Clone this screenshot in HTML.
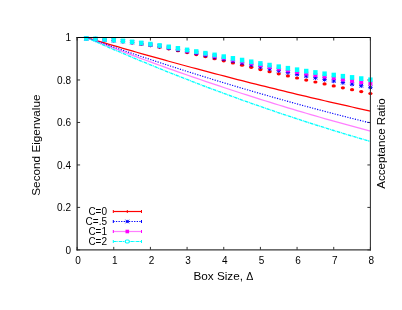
<!DOCTYPE html>
<html><head><meta charset="utf-8"><style>
html,body{margin:0;padding:0;background:#fff;}
svg{display:block;will-change:transform}
text{font-family:"Liberation Sans",sans-serif;fill:#000}
</style></head><body>
<svg width="402" height="310" viewBox="0 0 402 310">
<rect width="402" height="310" fill="#fff"/>
<g stroke="#333" stroke-width="1" fill="none">
<path d="M77.10,249.9 v-3 M77.10,37.5 v3"/>
<path d="M113.76,249.9 v-3 M113.76,37.5 v3"/>
<path d="M150.42,249.9 v-3 M150.42,37.5 v3"/>
<path d="M187.09,249.9 v-3 M187.09,37.5 v3"/>
<path d="M223.75,249.9 v-3 M223.75,37.5 v3"/>
<path d="M260.41,249.9 v-3 M260.41,37.5 v3"/>
<path d="M297.07,249.9 v-3 M297.07,37.5 v3"/>
<path d="M333.74,249.9 v-3 M333.74,37.5 v3"/>
<path d="M370.40,249.9 v-3 M370.40,37.5 v3"/>
<path d="M77.1,249.90 h3 M370.4,249.90 h-3"/>
<path d="M77.1,207.42 h3 M370.4,207.42 h-3"/>
<path d="M77.1,164.94 h3 M370.4,164.94 h-3"/>
<path d="M77.1,122.46 h3 M370.4,122.46 h-3"/>
<path d="M77.1,79.98 h3 M370.4,79.98 h-3"/>
<path d="M77.1,37.50 h3 M370.4,37.50 h-3"/>
</g>
<path d="M86.27,37.50 L90.85,38.87 L95.43,40.23 L100.01,41.59 L104.60,42.94 L109.18,44.29 L113.76,45.63 L118.35,46.96 L122.93,48.29 L127.51,49.61 L132.09,50.92 L136.68,52.23 L141.26,53.54 L145.84,54.83 L150.42,56.12 L155.01,57.41 L159.59,58.69 L164.17,59.96 L168.76,61.23 L173.34,62.49 L177.92,63.75 L182.50,65.00 L187.09,66.24 L191.67,67.48 L196.25,68.71 L200.84,69.93 L205.42,71.15 L210.00,72.37 L214.58,73.57 L219.17,74.77 L223.75,75.97 L228.33,77.16 L232.92,78.34 L237.50,79.52 L242.08,80.69 L246.66,81.86 L251.25,83.02 L255.83,84.17 L260.41,85.32 L265.00,86.46 L269.58,87.59 L274.16,88.72 L278.74,89.85 L283.33,90.96 L287.91,92.07 L292.49,93.18 L297.07,94.28 L301.66,95.37 L306.24,96.46 L310.82,97.54 L315.41,98.62 L319.99,99.69 L324.57,100.75 L329.15,101.81 L333.74,102.86 L338.32,103.90 L342.90,104.94 L347.49,105.98 L352.07,107.01 L356.65,108.03 L361.23,109.04 L365.82,110.05 L370.40,111.06" fill="none" stroke="#ff0000" stroke-width="1.25"/>
<path d="M86.27,37.50 L90.85,39.13 L95.43,40.75 L100.01,42.36 L104.60,43.96 L109.18,45.55 L113.76,47.14 L118.35,48.72 L122.93,50.29 L127.51,51.85 L132.09,53.40 L136.68,54.95 L141.26,56.48 L145.84,58.01 L150.42,59.53 L155.01,61.05 L159.59,62.55 L164.17,64.05 L168.76,65.54 L173.34,67.02 L177.92,68.49 L182.50,69.95 L187.09,71.41 L191.67,72.86 L196.25,74.30 L200.84,75.73 L205.42,77.15 L210.00,78.57 L214.58,79.98 L219.17,81.38 L223.75,82.77 L228.33,84.15 L232.92,85.52 L237.50,86.89 L242.08,88.25 L246.66,89.60 L251.25,90.94 L255.83,92.28 L260.41,93.60 L265.00,94.92 L269.58,96.23 L274.16,97.53 L278.74,98.82 L283.33,100.11 L287.91,101.39 L292.49,102.66 L297.07,103.92 L301.66,105.17 L306.24,106.42 L310.82,107.65 L315.41,108.88 L319.99,110.10 L324.57,111.31 L329.15,112.52 L333.74,113.71 L338.32,114.90 L342.90,116.08 L347.49,117.25 L352.07,118.42 L356.65,119.57 L361.23,120.72 L365.82,121.86 L370.40,122.99" fill="none" stroke="#0000ff" stroke-width="1.15" stroke-dasharray="1.2,1.4"/>
<path d="M86.27,37.50 L90.85,39.31 L95.43,41.11 L100.01,42.89 L104.60,44.67 L109.18,46.44 L113.76,48.20 L118.35,49.95 L122.93,51.69 L127.51,53.42 L132.09,55.14 L136.68,56.85 L141.26,58.55 L145.84,60.24 L150.42,61.92 L155.01,63.59 L159.59,65.25 L164.17,66.90 L168.76,68.54 L173.34,70.18 L177.92,71.80 L182.50,73.41 L187.09,75.01 L191.67,76.61 L196.25,78.19 L200.84,79.76 L205.42,81.32 L210.00,82.88 L214.58,84.42 L219.17,85.96 L223.75,87.48 L228.33,88.99 L232.92,90.50 L237.50,91.99 L242.08,93.48 L246.66,94.95 L251.25,96.42 L255.83,97.87 L260.41,99.32 L265.00,100.76 L269.58,102.18 L274.16,103.60 L278.74,105.01 L283.33,106.40 L287.91,107.79 L292.49,109.17 L297.07,110.54 L301.66,111.89 L306.24,113.24 L310.82,114.58 L315.41,115.91 L319.99,117.23 L324.57,118.54 L329.15,119.83 L333.74,121.12 L338.32,122.40 L342.90,123.67 L347.49,124.93 L352.07,126.18 L356.65,127.42 L361.23,128.65 L365.82,129.88 L370.40,131.09" fill="none" stroke="#ff00ff" stroke-opacity="0.5" stroke-width="1.25"/>
<path d="M86.27,37.50 L90.85,39.53 L95.43,41.55 L100.01,43.56 L104.60,45.55 L109.18,47.54 L113.76,49.51 L118.35,51.47 L122.93,53.42 L127.51,55.36 L132.09,57.29 L136.68,59.20 L141.26,61.10 L145.84,62.99 L150.42,64.87 L155.01,66.74 L159.59,68.60 L164.17,70.44 L168.76,72.28 L173.34,74.10 L177.92,75.91 L182.50,77.70 L187.09,79.49 L191.67,81.27 L196.25,83.03 L200.84,84.78 L205.42,86.52 L210.00,88.25 L214.58,89.96 L219.17,91.67 L223.75,93.36 L228.33,95.04 L232.92,96.71 L237.50,98.37 L242.08,100.02 L246.66,101.65 L251.25,103.28 L255.83,104.89 L260.41,106.49 L265.00,108.08 L269.58,109.65 L274.16,111.22 L278.74,112.77 L283.33,114.31 L287.91,115.84 L292.49,117.36 L297.07,118.87 L301.66,120.37 L306.24,121.85 L310.82,123.32 L315.41,124.78 L319.99,126.23 L324.57,127.67 L329.15,129.09 L333.74,130.51 L338.32,131.91 L342.90,133.30 L347.49,134.68 L352.07,136.04 L356.65,137.40 L361.23,138.74 L365.82,140.08 L370.40,141.40" fill="none" stroke="#00ffff" stroke-width="1.35" stroke-dasharray="3.4,0.7,0.9,0.7"/>
<ellipse cx="86.27" cy="38.59" rx="2.1" ry="1.6" fill="#ff0000"/>
<ellipse cx="95.43" cy="39.13" rx="2.1" ry="1.6" fill="#ff0000"/>
<ellipse cx="104.60" cy="39.82" rx="2.1" ry="1.6" fill="#ff0000"/>
<ellipse cx="113.76" cy="40.67" rx="2.1" ry="1.6" fill="#ff0000"/>
<ellipse cx="122.93" cy="41.67" rx="2.1" ry="1.6" fill="#ff0000"/>
<ellipse cx="132.09" cy="42.83" rx="2.1" ry="1.6" fill="#ff0000"/>
<ellipse cx="141.26" cy="44.14" rx="2.1" ry="1.6" fill="#ff0000"/>
<ellipse cx="150.42" cy="45.58" rx="2.1" ry="1.6" fill="#ff0000"/>
<ellipse cx="159.59" cy="47.16" rx="2.1" ry="1.6" fill="#ff0000"/>
<ellipse cx="168.76" cy="48.86" rx="2.1" ry="1.6" fill="#ff0000"/>
<ellipse cx="177.92" cy="50.66" rx="2.1" ry="1.6" fill="#ff0000"/>
<ellipse cx="187.09" cy="52.56" rx="2.1" ry="1.6" fill="#ff0000"/>
<ellipse cx="196.25" cy="54.54" rx="2.1" ry="1.6" fill="#ff0000"/>
<ellipse cx="205.42" cy="56.59" rx="2.1" ry="1.6" fill="#ff0000"/>
<ellipse cx="214.58" cy="58.69" rx="2.1" ry="1.6" fill="#ff0000"/>
<ellipse cx="223.75" cy="60.83" rx="2.1" ry="1.6" fill="#ff0000"/>
<ellipse cx="232.92" cy="63.00" rx="2.1" ry="1.6" fill="#ff0000"/>
<ellipse cx="242.08" cy="65.18" rx="2.1" ry="1.6" fill="#ff0000"/>
<ellipse cx="251.25" cy="67.37" rx="2.1" ry="1.6" fill="#ff0000"/>
<ellipse cx="260.41" cy="69.55" rx="2.1" ry="1.6" fill="#ff0000"/>
<ellipse cx="269.58" cy="71.71" rx="2.1" ry="1.6" fill="#ff0000"/>
<ellipse cx="278.74" cy="73.84" rx="2.1" ry="1.6" fill="#ff0000"/>
<ellipse cx="287.91" cy="75.94" rx="2.1" ry="1.6" fill="#ff0000"/>
<ellipse cx="297.07" cy="78.01" rx="2.1" ry="1.6" fill="#ff0000"/>
<ellipse cx="306.24" cy="80.03" rx="2.1" ry="1.6" fill="#ff0000"/>
<ellipse cx="315.41" cy="82.02" rx="2.1" ry="1.6" fill="#ff0000"/>
<ellipse cx="324.57" cy="83.97" rx="2.1" ry="1.6" fill="#ff0000"/>
<ellipse cx="333.74" cy="85.89" rx="2.1" ry="1.6" fill="#ff0000"/>
<ellipse cx="342.90" cy="87.79" rx="2.1" ry="1.6" fill="#ff0000"/>
<ellipse cx="352.07" cy="89.68" rx="2.1" ry="1.6" fill="#ff0000"/>
<ellipse cx="361.23" cy="91.58" rx="2.1" ry="1.6" fill="#ff0000"/>
<ellipse cx="370.40" cy="93.50" rx="2.1" ry="1.6" fill="#ff0000"/>
<path d="M84.47,36.75 l3.6,3.6 m-3.6,0 l3.6,-3.6 m-1.8,-0.4 v4.4 m-2.2,-2.2 h4.4" stroke="#0000ff" stroke-width="1" fill="none"/>
<path d="M93.63,37.22 l3.6,3.6 m-3.6,0 l3.6,-3.6 m-1.8,-0.4 v4.4 m-2.2,-2.2 h4.4" stroke="#0000ff" stroke-width="1" fill="none"/>
<path d="M102.80,37.85 l3.6,3.6 m-3.6,0 l3.6,-3.6 m-1.8,-0.4 v4.4 m-2.2,-2.2 h4.4" stroke="#0000ff" stroke-width="1" fill="none"/>
<path d="M111.96,38.62 l3.6,3.6 m-3.6,0 l3.6,-3.6 m-1.8,-0.4 v4.4 m-2.2,-2.2 h4.4" stroke="#0000ff" stroke-width="1" fill="none"/>
<path d="M121.13,39.54 l3.6,3.6 m-3.6,0 l3.6,-3.6 m-1.8,-0.4 v4.4 m-2.2,-2.2 h4.4" stroke="#0000ff" stroke-width="1" fill="none"/>
<path d="M130.29,40.61 l3.6,3.6 m-3.6,0 l3.6,-3.6 m-1.8,-0.4 v4.4 m-2.2,-2.2 h4.4" stroke="#0000ff" stroke-width="1" fill="none"/>
<path d="M139.46,41.81 l3.6,3.6 m-3.6,0 l3.6,-3.6 m-1.8,-0.4 v4.4 m-2.2,-2.2 h4.4" stroke="#0000ff" stroke-width="1" fill="none"/>
<path d="M148.62,43.14 l3.6,3.6 m-3.6,0 l3.6,-3.6 m-1.8,-0.4 v4.4 m-2.2,-2.2 h4.4" stroke="#0000ff" stroke-width="1" fill="none"/>
<path d="M157.79,44.60 l3.6,3.6 m-3.6,0 l3.6,-3.6 m-1.8,-0.4 v4.4 m-2.2,-2.2 h4.4" stroke="#0000ff" stroke-width="1" fill="none"/>
<path d="M166.96,46.16 l3.6,3.6 m-3.6,0 l3.6,-3.6 m-1.8,-0.4 v4.4 m-2.2,-2.2 h4.4" stroke="#0000ff" stroke-width="1" fill="none"/>
<path d="M176.12,47.82 l3.6,3.6 m-3.6,0 l3.6,-3.6 m-1.8,-0.4 v4.4 m-2.2,-2.2 h4.4" stroke="#0000ff" stroke-width="1" fill="none"/>
<path d="M185.29,49.57 l3.6,3.6 m-3.6,0 l3.6,-3.6 m-1.8,-0.4 v4.4 m-2.2,-2.2 h4.4" stroke="#0000ff" stroke-width="1" fill="none"/>
<path d="M194.45,51.39 l3.6,3.6 m-3.6,0 l3.6,-3.6 m-1.8,-0.4 v4.4 m-2.2,-2.2 h4.4" stroke="#0000ff" stroke-width="1" fill="none"/>
<path d="M203.62,53.27 l3.6,3.6 m-3.6,0 l3.6,-3.6 m-1.8,-0.4 v4.4 m-2.2,-2.2 h4.4" stroke="#0000ff" stroke-width="1" fill="none"/>
<path d="M212.78,55.19 l3.6,3.6 m-3.6,0 l3.6,-3.6 m-1.8,-0.4 v4.4 m-2.2,-2.2 h4.4" stroke="#0000ff" stroke-width="1" fill="none"/>
<path d="M221.95,57.14 l3.6,3.6 m-3.6,0 l3.6,-3.6 m-1.8,-0.4 v4.4 m-2.2,-2.2 h4.4" stroke="#0000ff" stroke-width="1" fill="none"/>
<path d="M231.12,59.12 l3.6,3.6 m-3.6,0 l3.6,-3.6 m-1.8,-0.4 v4.4 m-2.2,-2.2 h4.4" stroke="#0000ff" stroke-width="1" fill="none"/>
<path d="M240.28,61.09 l3.6,3.6 m-3.6,0 l3.6,-3.6 m-1.8,-0.4 v4.4 m-2.2,-2.2 h4.4" stroke="#0000ff" stroke-width="1" fill="none"/>
<path d="M249.45,63.06 l3.6,3.6 m-3.6,0 l3.6,-3.6 m-1.8,-0.4 v4.4 m-2.2,-2.2 h4.4" stroke="#0000ff" stroke-width="1" fill="none"/>
<path d="M258.61,65.02 l3.6,3.6 m-3.6,0 l3.6,-3.6 m-1.8,-0.4 v4.4 m-2.2,-2.2 h4.4" stroke="#0000ff" stroke-width="1" fill="none"/>
<path d="M267.78,66.94 l3.6,3.6 m-3.6,0 l3.6,-3.6 m-1.8,-0.4 v4.4 m-2.2,-2.2 h4.4" stroke="#0000ff" stroke-width="1" fill="none"/>
<path d="M276.94,68.83 l3.6,3.6 m-3.6,0 l3.6,-3.6 m-1.8,-0.4 v4.4 m-2.2,-2.2 h4.4" stroke="#0000ff" stroke-width="1" fill="none"/>
<path d="M286.11,70.68 l3.6,3.6 m-3.6,0 l3.6,-3.6 m-1.8,-0.4 v4.4 m-2.2,-2.2 h4.4" stroke="#0000ff" stroke-width="1" fill="none"/>
<path d="M295.27,72.48 l3.6,3.6 m-3.6,0 l3.6,-3.6 m-1.8,-0.4 v4.4 m-2.2,-2.2 h4.4" stroke="#0000ff" stroke-width="1" fill="none"/>
<path d="M304.44,74.23 l3.6,3.6 m-3.6,0 l3.6,-3.6 m-1.8,-0.4 v4.4 m-2.2,-2.2 h4.4" stroke="#0000ff" stroke-width="1" fill="none"/>
<path d="M313.61,75.93 l3.6,3.6 m-3.6,0 l3.6,-3.6 m-1.8,-0.4 v4.4 m-2.2,-2.2 h4.4" stroke="#0000ff" stroke-width="1" fill="none"/>
<path d="M322.77,77.59 l3.6,3.6 m-3.6,0 l3.6,-3.6 m-1.8,-0.4 v4.4 m-2.2,-2.2 h4.4" stroke="#0000ff" stroke-width="1" fill="none"/>
<path d="M331.94,79.21 l3.6,3.6 m-3.6,0 l3.6,-3.6 m-1.8,-0.4 v4.4 m-2.2,-2.2 h4.4" stroke="#0000ff" stroke-width="1" fill="none"/>
<path d="M341.10,80.80 l3.6,3.6 m-3.6,0 l3.6,-3.6 m-1.8,-0.4 v4.4 m-2.2,-2.2 h4.4" stroke="#0000ff" stroke-width="1" fill="none"/>
<path d="M350.27,82.37 l3.6,3.6 m-3.6,0 l3.6,-3.6 m-1.8,-0.4 v4.4 m-2.2,-2.2 h4.4" stroke="#0000ff" stroke-width="1" fill="none"/>
<path d="M359.43,83.94 l3.6,3.6 m-3.6,0 l3.6,-3.6 m-1.8,-0.4 v4.4 m-2.2,-2.2 h4.4" stroke="#0000ff" stroke-width="1" fill="none"/>
<path d="M368.60,85.53 l3.6,3.6 m-3.6,0 l3.6,-3.6 m-1.8,-0.4 v4.4 m-2.2,-2.2 h4.4" stroke="#0000ff" stroke-width="1" fill="none"/>
<rect x="84.27" y="36.52" width="4" height="4" fill="#ff00ff"/>
<rect x="93.43" y="36.96" width="4" height="4" fill="#ff00ff"/>
<rect x="102.60" y="37.54" width="4" height="4" fill="#ff00ff"/>
<rect x="111.76" y="38.27" width="4" height="4" fill="#ff00ff"/>
<rect x="120.93" y="39.13" width="4" height="4" fill="#ff00ff"/>
<rect x="130.09" y="40.14" width="4" height="4" fill="#ff00ff"/>
<rect x="139.26" y="41.28" width="4" height="4" fill="#ff00ff"/>
<rect x="148.42" y="42.54" width="4" height="4" fill="#ff00ff"/>
<rect x="157.59" y="43.92" width="4" height="4" fill="#ff00ff"/>
<rect x="166.76" y="45.40" width="4" height="4" fill="#ff00ff"/>
<rect x="175.92" y="46.98" width="4" height="4" fill="#ff00ff"/>
<rect x="185.09" y="48.63" width="4" height="4" fill="#ff00ff"/>
<rect x="194.25" y="50.35" width="4" height="4" fill="#ff00ff"/>
<rect x="203.42" y="52.12" width="4" height="4" fill="#ff00ff"/>
<rect x="212.58" y="53.93" width="4" height="4" fill="#ff00ff"/>
<rect x="221.75" y="55.77" width="4" height="4" fill="#ff00ff"/>
<rect x="230.92" y="57.62" width="4" height="4" fill="#ff00ff"/>
<rect x="240.08" y="59.47" width="4" height="4" fill="#ff00ff"/>
<rect x="249.25" y="61.30" width="4" height="4" fill="#ff00ff"/>
<rect x="258.41" y="63.11" width="4" height="4" fill="#ff00ff"/>
<rect x="267.58" y="64.89" width="4" height="4" fill="#ff00ff"/>
<rect x="276.74" y="66.63" width="4" height="4" fill="#ff00ff"/>
<rect x="285.91" y="68.32" width="4" height="4" fill="#ff00ff"/>
<rect x="295.07" y="69.95" width="4" height="4" fill="#ff00ff"/>
<rect x="304.24" y="71.54" width="4" height="4" fill="#ff00ff"/>
<rect x="313.41" y="73.06" width="4" height="4" fill="#ff00ff"/>
<rect x="322.57" y="74.54" width="4" height="4" fill="#ff00ff"/>
<rect x="331.74" y="75.97" width="4" height="4" fill="#ff00ff"/>
<rect x="340.90" y="77.37" width="4" height="4" fill="#ff00ff"/>
<rect x="350.07" y="78.74" width="4" height="4" fill="#ff00ff"/>
<rect x="359.23" y="80.10" width="4" height="4" fill="#ff00ff"/>
<rect x="368.40" y="81.48" width="4" height="4" fill="#ff00ff"/>
<rect x="84.07" y="36.14" width="4.4" height="4.7" fill="#00ffff"/>
<rect x="93.23" y="36.54" width="4.4" height="4.7" fill="#00ffff"/>
<rect x="102.40" y="37.09" width="4.4" height="4.7" fill="#00ffff"/>
<rect x="111.56" y="37.77" width="4.4" height="4.7" fill="#00ffff"/>
<rect x="120.73" y="38.59" width="4.4" height="4.7" fill="#00ffff"/>
<rect x="129.89" y="39.54" width="4.4" height="4.7" fill="#00ffff"/>
<rect x="139.06" y="40.61" width="4.4" height="4.7" fill="#00ffff"/>
<rect x="148.22" y="41.81" width="4.4" height="4.7" fill="#00ffff"/>
<rect x="157.39" y="43.11" width="4.4" height="4.7" fill="#00ffff"/>
<rect x="166.56" y="44.51" width="4.4" height="4.7" fill="#00ffff"/>
<rect x="175.72" y="46.00" width="4.4" height="4.7" fill="#00ffff"/>
<rect x="184.89" y="47.57" width="4.4" height="4.7" fill="#00ffff"/>
<rect x="194.05" y="49.19" width="4.4" height="4.7" fill="#00ffff"/>
<rect x="203.22" y="50.86" width="4.4" height="4.7" fill="#00ffff"/>
<rect x="212.38" y="52.56" width="4.4" height="4.7" fill="#00ffff"/>
<rect x="221.55" y="54.29" width="4.4" height="4.7" fill="#00ffff"/>
<rect x="230.72" y="56.02" width="4.4" height="4.7" fill="#00ffff"/>
<rect x="239.88" y="57.74" width="4.4" height="4.7" fill="#00ffff"/>
<rect x="249.05" y="59.45" width="4.4" height="4.7" fill="#00ffff"/>
<rect x="258.21" y="61.12" width="4.4" height="4.7" fill="#00ffff"/>
<rect x="267.38" y="62.76" width="4.4" height="4.7" fill="#00ffff"/>
<rect x="276.54" y="64.35" width="4.4" height="4.7" fill="#00ffff"/>
<rect x="285.71" y="65.89" width="4.4" height="4.7" fill="#00ffff"/>
<rect x="294.87" y="67.37" width="4.4" height="4.7" fill="#00ffff"/>
<rect x="304.04" y="68.78" width="4.4" height="4.7" fill="#00ffff"/>
<rect x="313.21" y="70.14" width="4.4" height="4.7" fill="#00ffff"/>
<rect x="322.37" y="71.44" width="4.4" height="4.7" fill="#00ffff"/>
<rect x="331.54" y="72.69" width="4.4" height="4.7" fill="#00ffff"/>
<rect x="340.70" y="73.90" width="4.4" height="4.7" fill="#00ffff"/>
<rect x="349.87" y="75.08" width="4.4" height="4.7" fill="#00ffff"/>
<rect x="359.03" y="76.25" width="4.4" height="4.7" fill="#00ffff"/>
<rect x="368.20" y="77.43" width="4.4" height="4.7" fill="#00ffff"/>
<path d="M76.50,37.50 H370.90" stroke="#000" stroke-width="1.05" fill="none"/>
<path d="M76.50,249.90 H370.90" stroke="#3a3a3a" stroke-width="1.25" fill="none"/>
<path d="M77.10,37.00 V250.50" stroke="#1a1a1a" stroke-width="1.2" fill="none"/>
<path d="M370.40,37.00 V250.50" stroke="#2e2e2e" stroke-width="1.05" fill="none"/>
<text x="78.10" y="263.5" font-size="10" text-anchor="middle">0</text>
<text x="114.76" y="263.5" font-size="10" text-anchor="middle">1</text>
<text x="151.42" y="263.5" font-size="10" text-anchor="middle">2</text>
<text x="188.09" y="263.5" font-size="10" text-anchor="middle">3</text>
<text x="224.75" y="263.5" font-size="10" text-anchor="middle">4</text>
<text x="261.41" y="263.5" font-size="10" text-anchor="middle">5</text>
<text x="298.07" y="263.5" font-size="10" text-anchor="middle">6</text>
<text x="334.74" y="263.5" font-size="10" text-anchor="middle">7</text>
<text x="371.40" y="263.5" font-size="10" text-anchor="middle">8</text>
<text x="71" y="253.50" font-size="10" text-anchor="end">0</text>
<text x="71" y="211.02" font-size="10" text-anchor="end">0.2</text>
<text x="71" y="168.54" font-size="10" text-anchor="end">0.4</text>
<text x="71" y="126.06" font-size="10" text-anchor="end">0.6</text>
<text x="71" y="83.58" font-size="10" text-anchor="end">0.8</text>
<text x="71" y="41.10" font-size="10" text-anchor="end">1</text>
<text x="193.4" y="279.6" font-size="11.75">Box Size, <tspan font-size="10.6">Δ</tspan></text>
<text transform="translate(39.5,145.1) rotate(-90)" font-size="11.75" text-anchor="middle">Second Eigenvalue</text>
<text transform="translate(384.8,143.5) rotate(-90)" font-size="11.55" text-anchor="middle">Acceptance Ratio</text>
<text x="107" y="215.1" font-size="10" text-anchor="end">C=0</text>
<path d="M113.3,211.5 H141.5" stroke="#ff0000" stroke-width="1.2"  fill="none"/>
<path d="M113.3,210.0 v3 M141.5,210.0 v3" stroke="#ff0000" stroke-width="1" fill="none"/>
<path d="M127.3,210.0 v3" stroke="#ff0000" stroke-width="1" fill="none"/>
<text x="107" y="225.1" font-size="10" text-anchor="end">C=.5</text>
<path d="M113.3,221.5 H141.5" stroke="#0000ff" stroke-width="1.2" stroke-dasharray="1.3,1.3" fill="none"/>
<path d="M113.3,220.0 v3 M141.5,220.0 v3" stroke="#0000ff" stroke-width="1" fill="none"/>
<path d="M125.50,219.70 l3.6,3.6 m-3.6,0 l3.6,-3.6 m-1.8,0.2 v3.2 m-1.6,-1.6 h3.2" stroke="#0000ff" stroke-width="0.95" fill="none"/>
<text x="107" y="235.1" font-size="10" text-anchor="end">C=1</text>
<path d="M113.3,231.5 H141.5" stroke="#ff00ff" stroke-width="1.2" stroke-opacity="0.5" fill="none"/>
<path d="M113.3,230.0 v3 M141.5,230.0 v3" stroke="#ff00ff" stroke-width="1" fill="none"/>
<rect x="125.50" y="229.70" width="3.6" height="3.6" fill="#ff00ff"/>
<text x="107" y="245.1" font-size="10" text-anchor="end">C=2</text>
<path d="M113.3,241.5 H141.5" stroke="#00ffff" stroke-width="1.2" stroke-dasharray="3.4,0.7,0.9,0.7" fill="none"/>
<path d="M113.3,240.0 v3 M141.5,240.0 v3" stroke="#00ffff" stroke-width="1" fill="none"/>
<rect x="125.30" y="240.00" width="4" height="3" rx="1.2" fill="#fff" stroke="#00ffff" stroke-width="1.2"/>
</svg></body></html>
